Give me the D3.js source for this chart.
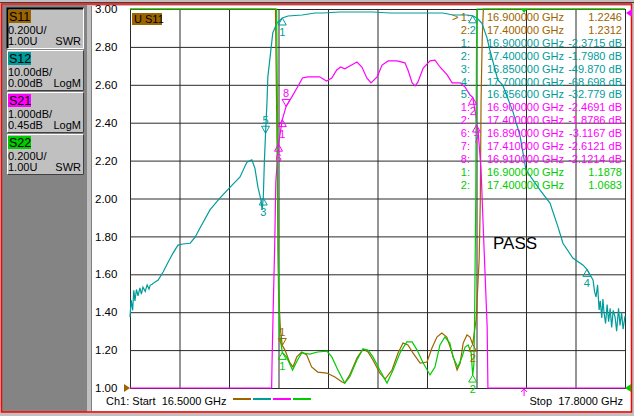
<!DOCTYPE html>
<html>
<head>
<meta charset="utf-8">
<script src="https://cdn.jsdelivr.net/npm/d3@7"></script>
<style>
  body { margin: 0; background: #c0c0c0; }
  svg text { font-family: "Liberation Sans", Arial, sans-serif; }
</style>
</head>
<body>
<svg width="634" height="416"></svg>
<script>
// sweep
const startFreq = 16.5;
const stopFreq = 17.8;

// traces as [GHz, value]
const s11 = [[16.5,5],[16.882,5],[16.886,2.31],[16.89,1.52],[16.895,1.31],[16.9,1.2246],[16.907,1.2],
  [16.92,1.132],[16.928,1.111],[16.938,1.164],[16.951,1.19],[16.964,1.174],[16.977,1.111],[16.993,1.084],
  [17.017,1.079],[17.038,1.058],[17.057,1.032],[17.064,1.026],[17.077,1.069],[17.096,1.158],[17.112,1.206],
  [17.125,1.19],[17.138,1.148],[17.156,1.079],[17.17,1.047],[17.188,1.095],[17.204,1.185],[17.217,1.237],
  [17.23,1.227],[17.243,1.185],[17.262,1.132],[17.28,1.137],[17.293,1.211],[17.306,1.269],[17.319,1.29],
  [17.332,1.269],[17.346,1.185],[17.359,1.095],[17.367,1.132],[17.375,1.237],[17.385,1.28],[17.393,1.269],
  [17.4,1.2312],[17.409,1.36],[17.417,1.68],[17.42,1.99],[17.422,2.52],[17.425,2.84],[17.428,5],[17.8,5]];

const s12 = [[16.5,-81.3],[16.503,-76.8],[16.507,-79.5],[16.51,-74.2],[16.513,-77.0],[16.517,-74.0],
  [16.521,-75.7],[16.526,-73.6],[16.53,-75.2],[16.534,-73.4],[16.54,-74.5],[16.545,-72.8],[16.55,-73.9],
  [16.553,-72.9],[16.558,-72.6],[16.566,-72.0],[16.574,-71.5],[16.587,-69.4],[16.6,-66.8],[16.613,-64.4],
  [16.626,-62.3],[16.639,-62.0],[16.658,-61.8],[16.671,-60.2],[16.681,-58.3],[16.71,-53.0],[16.736,-49.9],
  [16.763,-47.0],[16.789,-44.3],[16.807,-40.4],[16.82,-39.8],[16.828,-42.0],[16.836,-47.0],[16.844,-50.4],
  [16.847,-53.0],[16.85,-49.87],[16.853,-40.0],[16.856,-32.78],[16.86,-24.0],[16.862,-17.9],[16.867,-13.5],
  [16.875,-6.3],[16.886,-3.7],[16.9,-2.3715],[16.915,-1.85],[16.952,-1.58],[16.986,-1.06],[17.007,-1.06],
  [17.051,-0.79],[17.138,-0.79],[17.183,-1.06],[17.27,-1.06],[17.322,-1.06],[17.348,-1.58],[17.385,-1.58],
  [17.4,-1.798],[17.411,-2.4],[17.424,-3.7],[17.437,-7.4],[17.445,-10.8],[17.466,-18.7],[17.479,-20.1],
  [17.506,-27.2],[17.524,-33.3],[17.54,-42.5],[17.577,-47.8],[17.603,-51.2],[17.624,-57.5],[17.637,-61.8],
  [17.663,-65.7],[17.69,-67.6],[17.7,-68.698],[17.716,-71.5],[17.72,-74.5],[17.724,-76.0],[17.728,-72.8],
  [17.732,-79.4],[17.735,-77.0],[17.739,-81.5],[17.742,-76.5],[17.745,-80.2],[17.749,-83.0],[17.753,-78.0],
  [17.757,-82.5],[17.761,-79.0],[17.765,-84.0],[17.769,-79.5],[17.774,-81.3],[17.778,-85.0],[17.783,-79.0],
  [17.787,-83.5],[17.791,-80.0],[17.795,-84.5],[17.8,-81.0]];

const s21 = [[16.5,-20],[16.872,-20],[16.873,-8.9],[16.876,-7.5],[16.88,-5.8],[16.883,-4.1],[16.89,-3.1167],
  [16.9,-2.4691],[16.91,-2.1214],[16.925,-1.87],[16.94,-1.61],[16.953,-1.37],[16.967,-1.34],[16.998,-1.34],
  [17.016,-1.45],[17.03,-1.37],[17.043,-1.16],[17.053,-1.08],[17.064,-1.13],[17.082,-1.03],[17.096,-0.95],
  [17.109,-1.08],[17.122,-1.37],[17.133,-1.5],[17.149,-1.34],[17.162,-1.03],[17.178,-0.92],[17.201,-0.92],
  [17.222,-0.97],[17.23,-1.16],[17.241,-1.5],[17.249,-1.58],[17.256,-1.48],[17.27,-1.11],[17.288,-0.92],
  [17.301,-0.9],[17.314,-1.08],[17.333,-1.29],[17.346,-1.5],[17.367,-1.5],[17.38,-1.61],[17.393,-1.82],
  [17.4,-1.8786],[17.409,-2.4],[17.41,-2.6121],[17.414,-2.74],[17.422,-3.8],[17.43,-5.9],[17.438,-7.94],
  [17.44,-20],[17.8,-20]];

const s22 = [[16.5,5],[16.885,5],[16.887,2.52],[16.889,1.73],[16.893,1.28],[16.9,1.1878],[16.911,1.164],
  [16.927,1.095],[16.94,1.148],[16.951,1.185],[16.972,1.179],[16.993,1.19],[17.017,1.195],[17.03,1.164],
  [17.046,1.095],[17.064,1.026],[17.077,1.058],[17.096,1.148],[17.112,1.206],[17.125,1.2],[17.138,1.164],
  [17.156,1.095],[17.175,1.026],[17.191,1.095],[17.209,1.185],[17.227,1.243],[17.241,1.243],[17.254,1.2],
  [17.27,1.132],[17.288,1.069],[17.301,1.111],[17.314,1.227],[17.327,1.269],[17.34,1.237],[17.348,1.164],
  [17.361,1.111],[17.372,1.164],[17.38,1.216],[17.388,1.227],[17.396,1.185],[17.4,1.0683],[17.403,1.12],
  [17.405,1.36],[17.408,1.99],[17.41,2.78],[17.412,5],[17.8,5]];

// markers as [number, GHz, value]
const s11Markers = [[1,16.9,1.2246],[2,17.4,1.2312]];
const s12Markers = [[1,16.9,-2.3715],[2,17.4,-1.798],[3,16.85,-49.87],[4,17.7,-68.698],[5,16.856,-32.779]];
const s21Markers = [[1,16.9,-2.4691],[2,17.4,-1.8786],[6,16.89,-3.1167],[7,17.41,-2.6121],[8,16.91,-2.1214]];
const s22Markers = [[1,16.9,1.1878],[2,17.4,1.0683]];

// swr axis tick labels
const swrTicks = [1.0,1.2,1.4,1.6,1.8,2.0,2.2,2.4,2.6,2.8,3.0];

const colors = { s11: "#9c6400", s12: "#009c9c", s21: "#ff00ff", s22: "#00cc00" };

const svg = d3.select("svg");

// window chrome
svg.append("rect").attr("x", 0).attr("y", 0).attr("width", 634).attr("height", 416).attr("fill", "#c0c0c0");
svg.append("rect").attr("x", 2).attr("y", 5).attr("width", 85).attr("height", 407).attr("fill", "#848484");
svg.append("rect").attr("x", 92).attr("y", 6).attr("width", 539).attr("height", 405).attr("fill", "#fff");
svg.append("line").attr("x1", 91.5).attr("x2", 91.5).attr("y1", 6).attr("y2", 411).attr("stroke", "#808080");
svg.append("line").attr("x1", 0).attr("x2", 634).attr("y1", 2.5).attr("y2", 2.5).attr("stroke", "#404040");
svg.append("rect").attr("x", 1.5).attr("y", 4).attr("width", 630).attr("height", 408)
  .attr("fill", "none").attr("stroke", "#ff0000").attr("stroke-width", 1.5);

// channel buttons
const buttons = [
  { name: "S11", color: colors.s11, l1: "0.200U/", l2: "1.00U", fmt: "SWR", active: true },
  { name: "S12", color: colors.s12, l1: "10.00dB/", l2: "0.00dB", fmt: "LogM" },
  { name: "S21", color: colors.s21, l1: "1.000dB/", l2: "0.45dB", fmt: "LogM" },
  { name: "S22", color: colors.s22, l1: "0.200U/", l2: "1.00U", fmt: "SWR" },
];
buttons.forEach((b, i) => {
  const by = 8 + i * 42;
  const g = svg.append("g").attr("transform", `translate(7,${by})`);
  g.append("rect").attr("width", 77).attr("height", 41).attr("fill", "#c0c0c0");
  const hi = b.active ? "#000" : "#fff", lo = b.active ? "#fff" : "#404040";
  g.append("path").attr("d", "M0.5,40.5V0.5H76.5").attr("fill", "none").attr("stroke", hi).attr("stroke-width", b.active ? 2 : 1);
  g.append("path").attr("d", "M0.5,40.5H76.5V0.5").attr("fill", "none").attr("stroke", lo);
  g.append("rect").attr("x", 1).attr("y", 2).attr("width", 23).attr("height", 13).attr("fill", b.color);
  g.append("text").attr("x", 2).attr("y", 13).attr("font-size", 12.5).text(b.name);
  g.append("text").attr("x", 1).attr("y", 26).attr("font-size", 11).text(b.l1);
  g.append("text").attr("x", 1).attr("y", 37).attr("font-size", 11).text(b.l2);
  g.append("text").attr("x", 74).attr("y", 37).attr("font-size", 11).attr("text-anchor", "end").text(b.fmt);
});

// plot box
const plot = { left: 130, right: 625, top: 9, bottom: 388 };

const x = d3.scaleLinear().domain([startFreq, stopFreq]).range([plot.left, plot.right]);
const ySwr = d3.scaleLinear().domain([1, 3]).range([plot.bottom, plot.top]).clamp(true);
const yS12 = d3.scaleLinear().domain([-100, 0]).range([plot.bottom, plot.top]).clamp(true);
const yS21 = d3.scaleLinear().domain([-9.55, 0.45]).range([plot.bottom, plot.top]).clamp(true);

const freqTicks = d3.range(11).map(i => startFreq + i * (stopFreq - startFreq) / 10);

// vertical grid
const xGrid = svg.append("g").attr("transform", `translate(0,${plot.bottom})`)
  .call(d3.axisBottom(x).tickValues(freqTicks).tickSize(-(plot.bottom - plot.top)).tickFormat(""));
xGrid.select(".domain").remove();
xGrid.selectAll(".tick line").attr("stroke", "#2a2a2a");

// horizontal grid + SWR labels
const yGrid = svg.append("g").attr("transform", `translate(${plot.left},0)`)
  .call(d3.axisLeft(ySwr).tickValues(swrTicks).tickSize(-(plot.right - plot.left)).tickFormat(d3.format(".2f")));
yGrid.select(".domain").remove();
yGrid.selectAll(".tick line").attr("stroke", "#2a2a2a");
yGrid.selectAll(".tick text").attr("x", -35).attr("text-anchor", "start")
  .attr("font-size", 11.5).attr("font-family", "Liberation Sans, Arial, sans-serif").attr("fill", "#000");

svg.append("rect").attr("x", plot.left + 0.5).attr("y", plot.top + 0.5)
  .attr("width", plot.right - plot.left).attr("height", plot.bottom - plot.top)
  .attr("fill", "none").attr("stroke", "#2a2a2a");

// traces
const traces = [
  { data: s11, y: ySwr, color: colors.s11 },
  { data: s12, y: yS12, color: colors.s12 },
  { data: s21, y: yS21, color: colors.s21 },
  { data: s22, y: ySwr, color: colors.s22 },
];
traces.forEach(t => {
  svg.append("path")
    .attr("d", d3.line().x(d => x(d[0])).y(d => t.y(d[1]))(t.data))
    .attr("fill", "none").attr("stroke", t.color).attr("stroke-width", 1.2);
});

// markers: ▽ with number above, or △ with number below
const labelBelow = { s11: [2], s12: [1, 2, 3, 4], s21: [1, 2, 6, 7], s22: [1, 2] };
const markerSets = [
  { key: "s11", list: s11Markers, y: ySwr },
  { key: "s12", list: s12Markers, y: yS12 },
  { key: "s21", list: s21Markers, y: yS21 },
  { key: "s22", list: s22Markers, y: ySwr },
];
markerSets.forEach(m => {
  const g = svg.append("g");
  m.list.forEach(([n, f, v]) => {
    const px = x(f), py = m.y(v);
    const below = labelBelow[m.key].includes(n);
    const d = below
      ? `M${px},${py}L${px - 4},${py + 7}H${px + 4}Z`
      : `M${px},${py}L${px - 4},${py - 7}H${px + 4}Z`;
    g.append("path").attr("d", d).attr("fill", "none").attr("stroke", colors[m.key]).attr("stroke-width", 1);
    g.append("text").attr("x", px).attr("y", below ? py + 18 : py - 9)
      .attr("text-anchor", "middle").attr("font-size", 11).attr("fill", colors[m.key]).text(n);
  });
});

// reference arrows
svg.append("path").attr("d", `M${plot.left - 6},${ySwr(1) - 4}L${plot.left},${ySwr(1)}L${plot.left - 6},${ySwr(1) + 4}Z`).attr("fill", colors.s11);
svg.append("path").attr("d", `M${plot.right + 6},${ySwr(1) - 4}L${plot.right},${ySwr(1)}L${plot.right + 6},${ySwr(1) + 4}Z`).attr("fill", colors.s22);
svg.append("path").attr("d", `M${plot.right + 7},${yS21(0.45)}L${plot.right + 1},${yS21(0.45) + 4}L${plot.right + 7},${yS21(0.45) + 8}Z`).attr("fill", colors.s21);
const pointerFreq = 17.535;
const px0 = x(pointerFreq);
svg.append("path").attr("d", `M${px0 - 3},${plot.top}L${px0},${plot.top + 4}L${px0 + 3},${plot.top}Z`).attr("fill", colors.s22);
svg.append("path").attr("d", `M${px0},${plot.bottom + 1}V${plot.bottom + 8}M${px0 - 3},${plot.bottom + 4}L${px0},${plot.bottom + 1}L${px0 + 3},${plot.bottom + 4}`)
  .attr("fill", "none").attr("stroke", colors.s21);

// marker table
const fmtF = d3.format(".6f");
const fmtSwr = d3.format(".4f");
const fmtDb = d3.format(".5r");
const rows = [
  ...s11Markers.map(m => ({ m, c: colors.s11, val: fmtSwr(m[2]) })),
  ...s12Markers.map(m => ({ m, c: colors.s12, val: fmtDb(m[2]).replace("−", "-") + " dB" })),
  ...s21Markers.map(m => ({ m, c: colors.s21, val: fmtDb(m[2]).replace("−", "-") + " dB" })),
  ...s22Markers.map(m => ({ m, c: colors.s22, val: fmtSwr(m[2]) })),
];
const table = svg.append("g").attr("font-size", 11);
rows.forEach((r, i) => {
  const yy = 21 + i * 12.9;
  table.append("text").attr("x", 470).attr("y", yy).attr("text-anchor", "end").attr("fill", r.c).text(r.m[0] + ":");
  table.append("text").attr("x", 487).attr("y", yy).attr("fill", r.c).text(fmtF(r.m[1]) + " GHz");
  table.append("text").attr("x", 622).attr("y", yy).attr("text-anchor", "end").attr("fill", r.c).text(r.val);
});
table.append("text").attr("x", 452).attr("y", 21).attr("fill", colors.s11).text(">");

// trace title and status
svg.append("rect").attr("x", 132).attr("y", 13).attr("width", 30).attr("height", 12).attr("fill", colors.s11);
svg.append("text").attr("x", 134).attr("y", 23).attr("font-size", 11).text("U S11");
svg.append("text").attr("x", 493).attr("y", 249).attr("font-size", 17).text("PASS");

// footer
svg.append("text").attr("x", 106).attr("y", 405).attr("font-size", 11).attr("xml:space", "preserve")
  .text("Ch1: Start  16.5000 GHz");
svg.append("text").attr("x", 623).attr("y", 405).attr("font-size", 11).attr("text-anchor", "end")
  .attr("xml:space", "preserve").text("Stop  17.8000 GHz");
[colors.s11, colors.s12, colors.s21, colors.s22].forEach((c, i) => {
  svg.append("line").attr("x1", 233 + i * 20).attr("x2", 251 + i * 20).attr("y1", 399).attr("y2", 399)
    .attr("stroke", c).attr("stroke-width", 2);
});
</script>
</body>
</html>
